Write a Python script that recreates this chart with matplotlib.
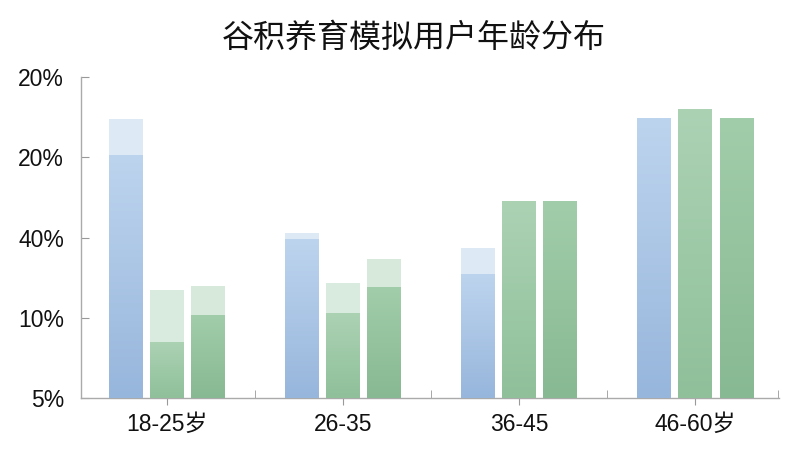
import matplotlib
matplotlib.use("Agg")
import matplotlib.pyplot as plt
import numpy as np
from matplotlib.colors import LinearSegmentedColormap

plt.rcParams['font.family'] = ['Noto Sans CJK SC', 'DejaVu Sans']

title = "谷积养育模拟用户年龄分布"
categories = ["18-25岁", "26-35", "36-45", "46-60岁"]
ytick_labels = ["5%", "10%", "40%", "20%", "20%"]
ytick_pos = [0, 1, 2, 3, 4]

# axis units (one unit per tick step)
blue_main = [3.03, 1.98, 1.54, 3.49]
blue_top = [3.48, 2.06, 1.87, 3.49]
green1_main = [0.70, 1.06, 2.45, 3.60]
green1_top = [1.35, 1.43, 2.45, 3.60]
green2_main = [1.03, 1.38, 2.45, 3.49]
green2_top = [1.40, 1.73, 2.45, 3.49]

fig = plt.figure(figsize=(8, 4.5), dpi=100)
ax = fig.add_axes([0.101, 0.1156, 0.873, 0.713])

x = np.arange(len(categories))
off = 0.233
w = 0.19

series = [
    (-off, blue_main, blue_top, ("#bdd4ee", "#97b6dc"), "#dde9f5"),
    (0.0, green1_main, green1_top, ("#acd2b4", "#8fc09a"), "#d9ebdf"),
    (off, green2_main, green2_top, ("#a2cdaa", "#87b992"), "#d6e9db"),
]

grad = np.linspace(0, 1, 256).reshape(-1, 1)
for dx, main, top, (ctop, cbot), clight in series:
    ax.bar(x + dx, top, width=w, color=clight, edgecolor='none', zorder=2)
    bars = ax.bar(x + dx, main, width=w, color=cbot, edgecolor='none', zorder=3)
    cmap = LinearSegmentedColormap.from_list("g", [cbot, ctop])
    for b in bars:
        x0, y0 = b.get_x(), b.get_y()
        bw, bh = b.get_width(), b.get_height()
        im = ax.imshow(grad, cmap=cmap, origin='lower', aspect='auto',
                       extent=[x0, x0 + bw, y0, y0 + bh], zorder=4)
        im.set_clip_path(b)

ax.set_xlim(-0.489, 3.477)
ax.set_ylim(0, 4.0)

lab_font = dict(family=['Liberation Sans', 'Noto Sans CJK SC'], size=16.5, color='#111111')
ax.set_yticks(ytick_pos)
ax.set_yticklabels(ytick_labels, **lab_font)
ax.set_xticks(x)
ax.set_xticklabels(categories, **lab_font)
ax.set_xticks([0.5, 1.5, 2.5, 3.47], minor=True)

ax.tick_params(axis='y', direction='in', length=6, color='#999999', pad=12)
ax.tick_params(axis='x', which='major', direction='out', length=5, color='#999999', pad=6)
ax.tick_params(axis='x', which='minor', direction='in', length=6, color='#999999')

for s in ['top', 'right']:
    ax.spines[s].set_visible(False)
for s in ['left', 'bottom']:
    ax.spines[s].set_color('#aaaaaa')
    ax.spines[s].set_linewidth(1.0)

fig.text(0.517, 0.915, title, ha='center', va='center', fontsize=23, color='#111111')

fig.savefig("out.png", dpi=100, facecolor='white')
